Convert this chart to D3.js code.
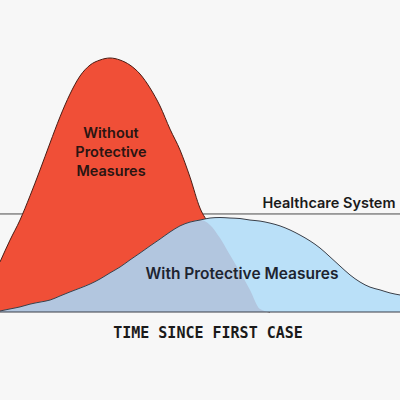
<!DOCTYPE html>
<html>
<head>
<meta charset="utf-8">
<script src="https://cdn.jsdelivr.net/npm/d3@7"></script>
<style>
  html, body { margin: 0; padding: 0; background: #f7f7f7; }
  svg { display: block; }
</style>
</head>
<body>
<svg id="chart" width="400" height="400"></svg>
<script>
// Time (arbitrary units, 0..40)
const time = d3.range(0, 41);
// Cases without protective measures
const withoutMeasures = [19.7, 28.3, 36.2, 45.7, 55.9, 66.5, 76.8, 85.8, 92.9, 97.2,
  99.2, 100, 99.2, 97.2, 93.7, 88.2, 81.1, 72.0, 63.8, 53.1,
  40.9, 34.3, 29.1, 22.4, 15.7, 8.7, 1.2, 0, 0, 0,
  0, 0, 0, 0, 0, 0, 0, 0, 0, 0, 0];
// Cases with protective measures
const withMeasures = [0.4, 1.2, 2.0, 3.1, 3.9, 4.7, 6.3, 7.9, 9.4, 11.0,
  13.0, 15.4, 17.7, 20.5, 23.2, 26.0, 28.7, 31.5, 33.9, 35.4,
  36.2, 37.0, 37.2, 37.0, 36.8, 36.2, 35.8, 35.0, 33.9, 32.3,
  30.3, 28.0, 25.2, 21.7, 18.1, 14.6, 11.8, 9.8, 8.7, 7.5, 6.7];
const capacity = 38.6;
const labels = {
  without: ["Without", "Protective", "Measures"],
  with: "With Protective Measures",
  capacity: "Healthcare System",
  xAxis: "TIME SINCE FIRST CASE"
};

const svg = d3.select("#chart");
const x = d3.scaleLinear().domain([0, 40]).range([0, 400]);
const y = d3.scaleLinear().domain([0, 100]).range([312, 58]);

const red = time.map((t, i) => ({ t, v: withoutMeasures[i] }));
const blue = time.map((t, i) => ({ t, v: withMeasures[i] }));
const overlap = time.map((t, i) => ({ t, v: Math.min(withoutMeasures[i], withMeasures[i]) }));

const curve = d3.curveMonotoneX;
const area = d3.area().x(d => x(d.t)).y0(y(0)).y1(d => y(d.v)).curve(curve);
const line = d3.line().x(d => x(d.t)).y(d => y(d.v)).curve(curve);

// capacity line
svg.append("line")
  .attr("x1", 0).attr("x2", 400)
  .attr("y1", y(capacity)).attr("y2", y(capacity))
  .attr("stroke", "#4a4a4a").attr("stroke-width", 1);

// red area
svg.append("path").datum(red).attr("d", area).attr("fill", "#f04f37");
svg.append("path").datum(red.filter(d => d.t <= 27)).attr("d", line)
  .attr("fill", "none").attr("stroke", "#4a1c14").attr("stroke-width", 1);

// blue area
svg.append("path").datum(blue).attr("d", area).attr("fill", "#bae0f8");
// overlap
svg.append("path").datum(overlap).attr("d", area).attr("fill", "#b2c6df");
svg.append("path").datum(blue).attr("d", line)
  .attr("fill", "none").attr("stroke", "#3a3f48").attr("stroke-width", 1);

// baseline
svg.append("line")
  .attr("x1", 0).attr("x2", 400)
  .attr("y1", y(0)).attr("y2", y(0))
  .attr("stroke", "#3a3f48").attr("stroke-width", 1.2);

const font = "Inter, 'Noto Sans', sans-serif";
// labels
const tw = svg.append("text")
  .attr("font-family", font).attr("font-weight", 600).attr("font-size", 14.5)
  .attr("fill", "#2a1512").attr("text-anchor", "middle");
labels.without.forEach((s, i) => {
  tw.append("tspan").attr("x", 111).attr("y", 138 + i * 19).text(s);
});

svg.append("text")
  .attr("x", 242).attr("y", 279)
  .attr("font-family", font).attr("font-weight", 600).attr("font-size", 15.5)
  .attr("fill", "#1e2430").attr("text-anchor", "middle")
  .text(labels.with);

svg.append("text")
  .attr("x", 329).attr("y", 208)
  .attr("font-family", font).attr("font-weight", 600).attr("font-size", 14.5)
  .attr("fill", "#1a1a1a").attr("text-anchor", "middle")
  .text(labels.capacity);

svg.append("text")
  .attr("x", 208).attr("y", 338)
  .attr("font-family", "'DejaVu Sans Mono', monospace").attr("font-weight", 700)
  .attr("font-size", 15).attr("fill", "#1a1a1a").attr("text-anchor", "middle")
  .text(labels.xAxis);
</script>
</body>
</html>
